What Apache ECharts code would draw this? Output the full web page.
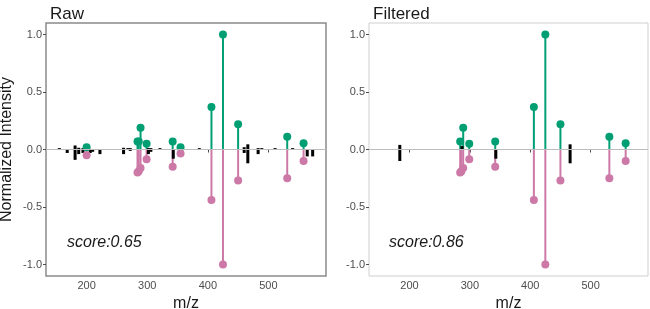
<!DOCTYPE html>
<html>
<head>
<meta charset="utf-8">
<script src="https://cdn.jsdelivr.net/npm/echarts@6/dist/echarts.min.js"></script>
<style>
  html, body { margin: 0; padding: 0; background: #fff; }
  #chart { width: 650px; height: 309px; }
</style>
</head>
<body>
<div id="chart"></div>
<script>
// 刻度
const xTicks = [200, 300, 400, 500];
const yTicks = [-1, -0.5, 0, 0.5, 1];

// Raw: 匹配峰 (上 / 下)
const rawMz = [200, 284, 286, 289, 299, 342, 355, 406, 425, 450, 531, 558];
const rawTop = [0.02, 0.07, 0.07, 0.19, 0.05, 0.07, 0.02, 0.37, 1.0, 0.22, 0.11, 0.055];
const rawBottom = [-0.05, -0.2, -0.19, -0.16, -0.085, -0.15, -0.035, -0.44, -1.0, -0.27, -0.25, -0.1];
// Raw: 未匹配峰
const rawOtherUpMz = [155, 181, 187, 194, 261, 268, 272, 302, 306, 321, 386, 460, 466, 483, 489, 511, 540];
const rawOtherUp = [0.012, 0.035, 0.015, 0.012, 0.015, 0.012, 0.012, 0.012, 0.012, 0.012, 0.012, 0.02, 0.045, 0.012, 0.012, 0.012, 0.012];
const rawOtherDownMz = [168, 181, 187, 194, 206, 210, 222, 261, 272, 302, 306, 343, 460, 466, 483, 564, 573];
const rawOtherDown = [-0.03, -0.09, -0.04, -0.03, -0.03, -0.02, -0.04, -0.04, -0.012, -0.04, -0.02, -0.08, -0.03, -0.12, -0.04, -0.06, -0.06];

// Filtered
const filtTopMz = [284, 289, 299, 342, 406, 425, 450, 531, 558];
const filtTop = [0.07, 0.19, 0.05, 0.07, 0.37, 1.0, 0.22, 0.11, 0.055];
const filtBottomMz = [284, 286, 289, 299, 342, 406, 425, 450, 531, 558];
const filtBottom = [-0.2, -0.19, -0.16, -0.085, -0.15, -0.44, -1.0, -0.27, -0.25, -0.1];
const filtOtherUpMz = [184, 287, 466];
const filtOtherUp = [0.04, 0.03, 0.045];
const filtOtherDownMz = [184, 343, 466];
const filtOtherDown = [-0.1, -0.08, -0.12];

const scores = ['score:0.65', 'score:0.86'];
const titles = ['Raw', 'Filtered'];

const GREEN = '#009E73';
const PINK = '#CC79A7';

function pairs(mz, vals) {
    return mz.map((m, i) => [m, vals[i]]);
}

// 竖线 (custom series)
function stems(idx, mz, vals, color, width) {
    return {
        type: 'custom',
        xAxisIndex: idx,
        yAxisIndex: idx,
        silent: true,
        encode: { x: 0, y: 1 },
        data: pairs(mz, vals),
        renderItem: function (params, api) {
            const p0 = api.coord([api.value(0), 0]);
            const p1 = api.coord([api.value(0), api.value(1)]);
            return {
                type: 'line',
                shape: { x1: p0[0], y1: p0[1], x2: p1[0], y2: p1[1] },
                style: { stroke: color, lineWidth: width }
            };
        }
    };
}

function dots(idx, mz, vals, color) {
    return {
        type: 'scatter',
        xAxisIndex: idx,
        yAxisIndex: idx,
        silent: true,
        symbolSize: 8,
        itemStyle: { color: color, opacity: 1 },
        data: pairs(mz, vals)
    };
}

function zeroLine(idx) {
    return {
        type: 'line',
        xAxisIndex: idx,
        yAxisIndex: idx,
        data: [],
        markLine: {
            silent: true,
            symbol: 'none',
            label: { show: false },
            lineStyle: { color: '#bdbdbd', width: 1, type: 'solid' },
            data: [{ yAxis: 0 }]
        }
    };
}

function xAxis(idx) {
    return {
        type: 'value',
        gridIndex: idx,
        min: 133,
        max: 595,
        name: 'm/z',
        nameLocation: 'middle',
        nameGap: 17,
        nameTextStyle: { fontSize: 16, color: '#1a1a1a', fontFamily: 'Liberation Sans' },
        axisLine: { show: false },
        splitLine: { show: false },
        axisTick: { show: true, length: 3, customValues: xTicks, lineStyle: { color: '#4d4d4d' } },
        axisLabel: {
            customValues: xTicks, margin: 4, fontSize: 11, color: '#4d4d4d',
            fontFamily: 'Liberation Sans'
        }
    };
}

function yAxis(idx) {
    return {
        type: 'value',
        gridIndex: idx,
        min: -1.1,
        max: 1.1,
        name: idx === 0 ? 'Normalized Intensity' : '',
        nameLocation: 'middle',
        nameGap: 31,
        nameTextStyle: { fontSize: 16, color: '#1a1a1a', fontFamily: 'Liberation Sans' },
        axisLine: { show: false },
        splitLine: { show: false },
        axisTick: { show: true, length: 3, customValues: yTicks, lineStyle: { color: '#4d4d4d' } },
        axisLabel: {
            customValues: yTicks, margin: 4, fontSize: 11, color: '#4d4d4d',
            fontFamily: 'Liberation Sans',
            formatter: v => v.toFixed(1)
        }
    };
}

const grids = [
    { left: 46, top: 23, width: 280, height: 253, show: true, outerBoundsMode: 'none', containLabel: false, borderColor: '#8a8a8a', borderWidth: 1.5, backgroundColor: '#fff' },
    { left: 369, top: 23, width: 279, height: 253, show: true, outerBoundsMode: 'none', containLabel: false, borderColor: '#cfcfcf', borderWidth: 1, backgroundColor: '#fff' }
];

const series = [
    zeroLine(0),
    stems(0, rawMz, rawTop, GREEN, 2),
    stems(0, rawMz, rawBottom, PINK, 2),
    dots(0, rawMz, rawTop, GREEN),
    dots(0, rawMz, rawBottom, PINK),
    stems(0, rawOtherUpMz, rawOtherUp, '#000', 3),
    stems(0, rawOtherDownMz, rawOtherDown, '#000', 3),

    zeroLine(1),
    stems(1, filtTopMz, filtTop, GREEN, 2),
    stems(1, filtBottomMz, filtBottom, PINK, 2),
    dots(1, filtTopMz, filtTop, GREEN),
    dots(1, filtBottomMz, filtBottom, PINK),
    stems(1, filtOtherUpMz, filtOtherUp, '#000', 3),
    stems(1, filtOtherDownMz, filtOtherDown, '#000', 3)
];

const chart = echarts.init(document.getElementById('chart'), null, { renderer: 'canvas' });
chart.setOption({
    animation: false,
    backgroundColor: '#fff',
    title: [
        { text: titles[0], left: 45, top: 1, textStyle: { fontSize: 17, fontWeight: 'normal', color: '#1a1a1a', fontFamily: 'Liberation Sans' } },
        { text: titles[1], left: 368, top: 1, textStyle: { fontSize: 17, fontWeight: 'normal', color: '#1a1a1a', fontFamily: 'Liberation Sans' } }
    ],
    grid: grids,
    xAxis: [xAxis(0), xAxis(1)],
    yAxis: [yAxis(0), yAxis(1)],
    graphic: [
        { type: 'text', left: 67, top: 235, style: { text: scores[0], fontSize: 16, fontStyle: 'italic', fill: '#1a1a1a', fontFamily: 'Liberation Sans' } },
        { type: 'text', left: 389, top: 235, style: { text: scores[1], fontSize: 16, fontStyle: 'italic', fill: '#1a1a1a', fontFamily: 'Liberation Sans' } }
    ],
    series: series
});
</script>
</body>
</html>
